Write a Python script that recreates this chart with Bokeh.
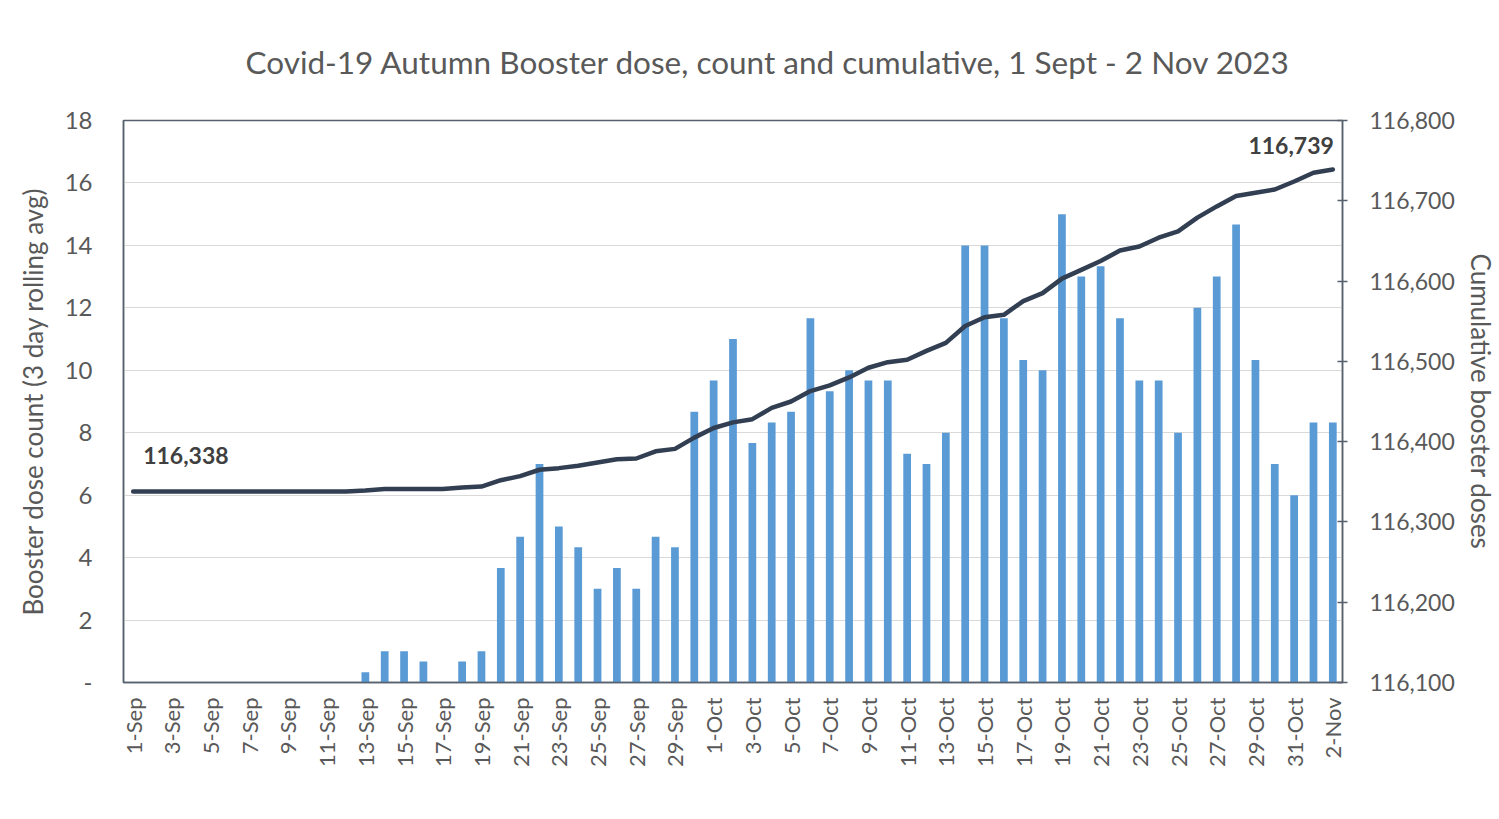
import math
from bokeh.plotting import figure
from bokeh.models import (Range1d, LinearAxis, FixedTicker, NumeralTickFormatter, ColumnDataSource)
from bokeh.core.properties import value
from bokeh.embed import file_html
from bokeh.resources import INLINE

# ---------------- data ----------------
dates = ([f"{d}-Sep" for d in range(1, 31)] +
         [f"{d}-Oct" for d in range(1, 32)] +
         ["1-Nov", "2-Nov"])

rolling_avg_sep = [0, 0, 0, 0, 0, 0, 0, 0, 0, 0, 0, 0,
                   0.33, 1.0, 1.0, 0.67, 0.0, 0.67, 1.0, 3.67, 4.67, 7.0,
                   5.0, 4.33, 3.0, 3.67, 3.0, 4.67, 4.33, 8.67]
rolling_avg_oct = [9.67, 11.0, 7.67, 8.33, 8.67, 11.67, 9.33, 10.0, 9.67, 9.67,
                   7.33, 7.0, 8.0, 14.0, 14.0, 11.67, 10.33, 10.0, 15.0, 13.0,
                   13.33, 11.67, 9.67, 9.67, 8.0, 12.0, 13.0, 14.67, 10.33, 7.0, 6.0]
rolling_avg_nov = [8.33, 8.33]

cumulative_sep = [116338, 116338, 116338, 116338, 116338, 116338, 116338, 116338,
                  116338, 116338, 116338, 116338, 116339, 116341, 116341, 116341,
                  116341, 116343, 116344, 116352, 116357, 116365, 116367, 116370,
                  116374, 116378, 116379, 116388, 116391, 116405]
cumulative_oct = [116417, 116424, 116428, 116442, 116450, 116463, 116470, 116480,
                  116492, 116499, 116502, 116513, 116523, 116544, 116555, 116558,
                  116575, 116585, 116603, 116614, 116625, 116638, 116643, 116654,
                  116662, 116679, 116693, 116706, 116710, 116714, 116724]
cumulative_nov = [116735, 116739]

rolling_avg = rolling_avg_sep + rolling_avg_oct + rolling_avg_nov
cumulative = cumulative_sep + cumulative_oct + cumulative_nov
xs = list(range(len(dates)))

left_ticks = [0, 2, 4, 6, 8, 10, 12, 14, 16, 18]
right_ticks = [116100, 116200, 116300, 116400, 116500, 116600, 116700, 116800]

title = "Covid-19 Autumn Booster dose, count and cumulative, 1 Sept - 2 Nov 2023"
left_label = "Booster dose count (3 day rolling avg)"
right_label = "Cumulative booster doses"

# ---------------- styling ----------------
FONT = "Lato"
GRAY = "#595959"
FRAME = "#56606e"
BAR = "#5b9bd5"
LINE = "#323f52"

p = figure(width=1499, height=811,
           output_backend="svg", toolbar_location=None,
           x_range=Range1d(-0.5, len(dates) - 0.5), y_range=Range1d(0, 18),
           min_border_left=123, min_border_right=156, min_border_top=120,
           min_border_bottom=129)
p.extra_y_ranges = {"right": Range1d(116100, 116800)}

p.title.text = title
p.title.align = "left"
p.title.offset = 122
p.title.standoff = 79
p.title.text_font = FONT
p.title.text_font_size = "31.5px"
p.title.text_font_style = "normal"
p.title.text_color = GRAY

p.outline_line_color = FRAME
p.outline_line_width = 1.5
p.background_fill_color = "white"
p.border_fill_color = "white"

p.xgrid.visible = False
p.ygrid.grid_line_color = "#d9d9d9"
p.ygrid.grid_line_width = 1
p.ygrid.ticker = FixedTicker(ticks=left_ticks)

# left axis
ya = p.yaxis[0]
ya.ticker = FixedTicker(ticks=left_ticks)
ya.major_label_overrides = {0: "-"}
ya.axis_label = left_label
ya.axis_label_text_font = FONT
ya.axis_label_text_font_size = "26px"
ya.axis_label_text_font_style = "normal"
ya.axis_label_text_color = GRAY
ya.axis_label_standoff = 13
ya.major_label_text_font = FONT
ya.major_label_text_font_size = "24px"
ya.major_label_text_color = GRAY
ya.major_label_standoff = 31
ya.major_tick_in = 0
ya.major_tick_out = 0
ya.major_tick_line_color = None
ya.minor_tick_line_color = None
ya.axis_line_color = FRAME
ya.axis_line_width = 1.5

# bottom axis
xa = p.xaxis[0]
xa.ticker = FixedTicker(ticks=xs[::2])
xa.major_label_overrides = {i: dates[i] for i in xs[::2]}
xa.major_label_orientation = math.pi / 2
xa.major_label_text_font = FONT
xa.major_label_text_font_size = "22px"
xa.major_label_text_color = GRAY
xa.major_label_standoff = 15
xa.major_tick_in = 0
xa.major_tick_out = 0
xa.major_tick_line_color = None
xa.minor_tick_line_color = None
xa.axis_line_color = FRAME
xa.axis_line_width = 1.5

# right axis
ra = LinearAxis(y_range_name="right", ticker=FixedTicker(ticks=right_ticks),
                formatter=NumeralTickFormatter(format="0,0"))
ra.axis_label = right_label
ra.axis_label_text_font = FONT
ra.axis_label_text_font_size = "26px"
ra.axis_label_text_font_style = "normal"
ra.axis_label_text_color = GRAY
ra.axis_label_standoff = 7
ra.major_label_text_font = FONT
ra.major_label_text_font_size = "23px"
ra.major_label_text_color = GRAY
ra.major_label_standoff = 22
ra.major_tick_in = 5
ra.major_tick_out = 5
ra.major_tick_line_color = FRAME
ra.major_tick_line_width = 1.5
ra.minor_tick_line_color = None
ra.axis_line_color = FRAME
ra.axis_line_width = 1.5
p.add_layout(ra, "right")

src = ColumnDataSource(dict(x=xs, avg=rolling_avg, cum=cumulative, d=dates))

p.vbar(x="x", top="avg", width=0.4, bottom=0, source=src,
       fill_color=BAR, line_color=None)
p.line(x="x", y="cum", source=src, y_range_name="right",
       line_color=LINE, line_width=4.5, line_join="round", line_cap="round")

# data labels for first and last cumulative values
p.text(x=[xs[0]], y=[cumulative[0]], text=[f"{cumulative[0]:,}"],
       y_range_name="right", x_offset=10, y_offset=-36,
       text_align="left", text_baseline="middle",
       text_font=value(FONT), text_font_size="23px", text_font_style="bold",
       text_color="#404040")
p.text(x=[xs[-1]], y=[cumulative[-1]], text=[f"{cumulative[-1]:,}"],
       y_range_name="right", x_offset=1, y_offset=-24,
       text_align="right", text_baseline="middle",
       text_font=value(FONT), text_font_size="23px", text_font_style="bold",
       text_color="#404040")

open("out.html", "w").write(file_html(p, INLINE))
